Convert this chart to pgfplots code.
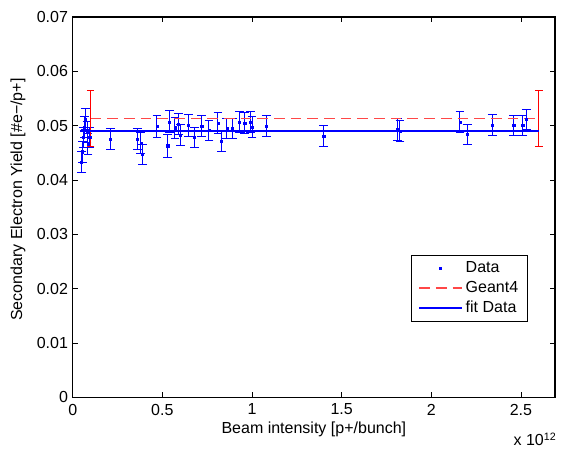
\documentclass[border=0pt]{standalone}
\usepackage{fontspec}
\setmainfont{Liberation Sans}
\usepackage{pgfplots}
\pgfplotsset{compat=1.18}
\usetikzlibrary{calc}
\newcommand{\fs}{\fontsize{12}{14}\selectfont}
\begin{document}
\begin{tikzpicture}
\begin{axis}[
  scale only axis,
  width=361.5pt, height=285pt,
  xmin=0, xmax=2.69, ymin=0, ymax=0.07,
  xtick={0,0.5,1,1.5,2,2.5},
  xticklabels={0,0.5,1,1.5,2,2.5},
  ytick={0,0.01,0.02,0.03,0.04,0.05,0.06,0.07},
  yticklabels={0,0.01,0.02,0.03,0.04,0.05,0.06,0.07},
  scaled y ticks=false, scaled x ticks=false,
  tick label style={font=\fs},
  xticklabel style={yshift=-1.5pt},
  tick align=inside, tick pos=both,
  major tick length=3.75pt,
  axis line style={line width=0.8pt},
  every tick/.style={black, line width=0.6pt},
  every axis x label/.style={at={(axis description cs:0.5,0)}, anchor=center, yshift=-24pt},
  every axis y label/.style={at={(axis description cs:-0.1135,0.52)}, rotate=90, anchor=center},
  label style={font=\fs},
  xlabel={Beam intensity [p+/bunch]},
  ylabel={Secondary Electron Yield [\#e\textminus/p+]},
  legend style={at={(0.944,0.198)}, anchor=south east, draw=black, line width=0.6pt,
    font=\fs, inner xsep=5pt, inner ysep=3pt, cells={anchor=west}, row sep=1pt},
  legend image code/.code={\draw[mark repeat=2,mark phase=2,#1] plot coordinates {(0pt,0pt) (16pt,0pt) (32pt,0pt)};},
]
% measured data with error bars
\addplot[only marks, color=blue, mark=square*, mark size=0.8pt, mark options={draw=blue, fill=blue},
  error bars/.cd, y dir=both, y explicit,
  error bar style={color=blue, line width=0.75pt},
  error mark options={rotate=90, color=blue, mark size=3.3pt, line width=0.75pt}]
coordinates {
  (0.05,0.0433) +- (0,0.0019)
  (0.055,0.0452) +- (0,0.0019)
  (0.06,0.0478) +- (0,0.0019)
  (0.065,0.0497) +- (0,0.0019)
  (0.07,0.0512) +- (0,0.0020)
  (0.08,0.0488) +- (0,0.0019)
  (0.085,0.0466) +- (0,0.0019)
  (0.095,0.0478) +- (0,0.0019)
  (0.21,0.0475) +- (0,0.0019)
  (0.36,0.0475) +- (0,0.0019)
  (0.38,0.0468) +- (0,0.0019)
  (0.39,0.0447) +- (0,0.0019)
  (0.47,0.0499) +- (0,0.0020)
  (0.53,0.0463) +- (0,0.0021)
  (0.54,0.0507) +- (0,0.0020)
  (0.57,0.0496) +- (0,0.0019)
  (0.59,0.0503) +- (0,0.0019)
  (0.60,0.0483) +- (0,0.0019)
  (0.645,0.0500) +- (0,0.0020)
  (0.68,0.0478) +- (0,0.0019)
  (0.72,0.0499) +- (0,0.0019)
  (0.76,0.0491) +- (0,0.0019)
  (0.81,0.0505) +- (0,0.0019)
  (0.83,0.0471) +- (0,0.0019)
  (0.86,0.0495) +- (0,0.0019)
  (0.89,0.0495) +- (0,0.0019)
  (0.93,0.0507) +- (0,0.0019)
  (0.96,0.0505) +- (0,0.0019)
  (0.99,0.0507) +- (0,0.0019)
  (1.00,0.0497) +- (0,0.0019)
  (1.08,0.0499) +- (0,0.0019)
  (1.40,0.0481) +- (0,0.0019)
  (1.81,0.0493) +- (0,0.0020)
  (1.825,0.0490) +- (0,0.0020)
  (2.16,0.0507) +- (0,0.0019)
  (2.20,0.0484) +- (0,0.0019)
  (2.34,0.0501) +- (0,0.0019)
  (2.46,0.0500) +- (0,0.0019)
  (2.51,0.0500) +- (0,0.0019)
  (2.53,0.0511) +- (0,0.0019)
};
\addlegendentry{Data}
% Geant4 simulation
\addplot[red!72!white, line width=0.8pt, dash pattern=on 8pt off 4.5pt, mark=none,
  error bars/.cd, y dir=both, y explicit,
  error bar style={color=red, line width=0.8pt, solid},
  error mark options={rotate=90, color=red, mark size=2.8pt, line width=0.8pt, solid}]
coordinates {
  (0.1,0.0513) +- (0,0.0051)
  (2.6,0.0513) +- (0,0.0051)
};
\addlegendentry{Geant4}
% constant fit
\addplot[blue, line width=1.6pt, mark=none] coordinates {(0.04,0.0490) (2.6,0.0490)};
\addlegendentry{fit Data}
\end{axis}
\node[anchor=center, font=\fs] at ($(current axis.south east)+(-15pt,-31.5pt)$) {x 10\textsuperscript{12}};
\path (current axis.south west) ++(-54.5pt,-36.75pt);
\path (current axis.north east) ++(4.5pt,12.75pt);
\end{tikzpicture}
\end{document}
